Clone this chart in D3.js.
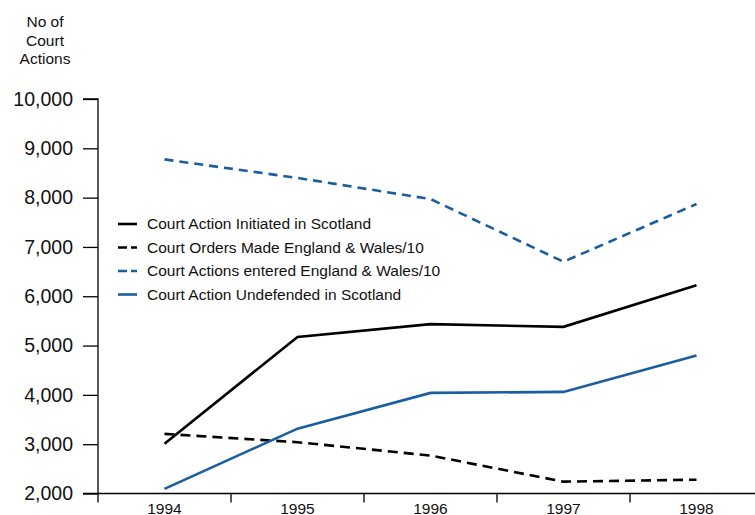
<!DOCTYPE html>
<html>
  <head>
    <meta charset="utf-8">
    <script type="text/javascript" src="https://d3js.org/d3.v7.min.js"></script>
    <title></title>
  </head>
  <style media="screen">
    body { margin: 0; background: #fff; }
    text { font-family: "Liberation Sans", Arial, sans-serif; fill: #111; }
  </style>
  <body>

    <script type="text/javascript">

    var years = ["1994", "1995", "1996", "1997", "1998"];
    var yTicks = [2000, 3000, 4000, 5000, 6000, 7000, 8000, 9000, 10000];

    var initiatedScotland = [3010, 5175, 5435, 5380, 6225];
    var ordersEngland = [3210, 3040, 2770, 2240, 2280];
    var enteredEngland = [8775, 8400, 7970, 6700, 7870];
    var undefendedScotland = [2095, 3315, 4040, 4060, 4800];

    var seriesNames = [
      "Court Action Initiated in Scotland",
      "Court Orders Made England & Wales/10",
      "Court Actions entered England & Wales/10",
      "Court Action Undefended in Scotland"
    ];

    var blue = "#1b5e9f";
    var series = [
      {name: seriesNames[0], values: initiatedScotland, color: "#000", dash: null},
      {name: seriesNames[1], values: ordersEngland, color: "#000", dash: "10,6"},
      {name: seriesNames[2], values: enteredEngland, color: blue, dash: "9,6"},
      {name: seriesNames[3], values: undefendedScotland, color: blue, dash: null}
    ];

    var width = 755, height = 515;
    var margin = {left: 98, top: 99, bottom: 21};

    var svg = d3.select("body").append("svg")
        .attr("width", width)
        .attr("height", height);

    var x = d3.scaleBand().domain(years).range([margin.left, 763]);
    var y = d3.scaleLinear().domain([2000, 10000]).range([height - margin.bottom - 0.5, margin.top]);

    // y axis
    var yAxis = d3.axisLeft(y)
      .tickValues(yTicks)
      .tickSize(15)
      .tickPadding(10)
      .tickFormat(d3.format(","));

    var gy = svg.append("g")
        .attr("transform", "translate(" + margin.left + ",0)")
        .call(yAxis);
    gy.select(".domain").attr("d", "M-15," + y(10000) + "H0V" + y(2000));
    gy.selectAll("text").style("font-size", "19.5px");
    gy.selectAll("line, path").attr("stroke", "#000").attr("stroke-width", 1.3);

    // x axis: ticks at band edges
    var gx = svg.append("g")
        .attr("transform", "translate(0," + y(2000) + ")");
    gx.append("line")
        .attr("x1", margin.left - 15).attr("x2", width)
        .attr("stroke", "#000").attr("stroke-width", 1.3);
    gx.selectAll(".edge")
      .data(years)
      .enter().append("line")
        .attr("x1", function(d) { return x(d); })
        .attr("x2", function(d) { return x(d); })
        .attr("y2", 9)
        .attr("stroke", "#000").attr("stroke-width", 1.3);
    gx.selectAll(".lbl")
      .data(years)
      .enter().append("text")
        .attr("x", function(d) { return x(d) + x.bandwidth() / 2; })
        .attr("y", 20)
        .attr("text-anchor", "middle")
        .style("font-size", "15.5px")
        .text(function(d) { return d; });

    // y title
    var title = svg.append("text")
        .attr("text-anchor", "middle")
        .style("font-size", "15.5px");
    ["No of", "Court", "Actions"].forEach(function(t, i) {
      title.append("tspan").attr("x", 45).attr("y", 27 + i * 18.5).text(t);
    });

    var line = d3.line()
      .x(function(d, i) { return x(years[i]) + x.bandwidth() / 2; })
      .y(function(d) { return y(d); });

    series.forEach(function(s) {
      svg.append("path")
          .datum(s.values)
          .attr("d", line)
          .attr("fill", "none")
          .attr("stroke", s.color)
          .attr("stroke-width", 2.6)
          .attr("stroke-dasharray", s.dash);
    });

    // legend
    var legend = svg.append("g").attr("transform", "translate(118,224)");
    series.forEach(function(s, i) {
      var g = legend.append("g").attr("transform", "translate(0," + i * 23.5 + ")");
      g.append("line")
          .attr("x1", 0).attr("x2", 19)
          .attr("stroke", s.color)
          .attr("stroke-width", 2.6)
          .attr("stroke-dasharray", s.dash ? "9,4" : null);
      g.append("text")
          .attr("x", 29)
          .attr("dy", "0.35em")
          .style("font-size", "15.5px")
          .text(s.name);
    });

    </script>

  </body>
</html>
